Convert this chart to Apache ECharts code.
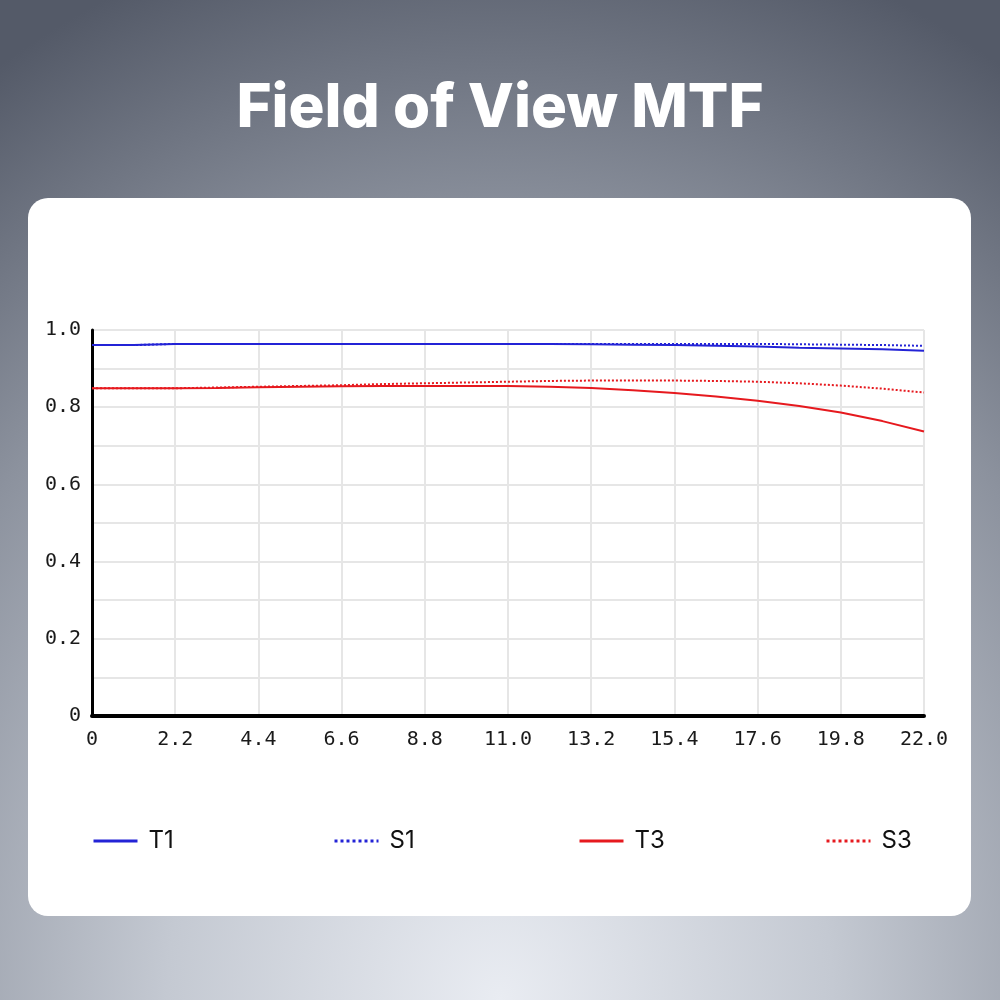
<!DOCTYPE html>
<html>
<head>
<meta charset="utf-8">
<script src="https://cdn.jsdelivr.net/npm/echarts@6/dist/echarts.min.js"></script>
<style>
html, body { margin: 0; padding: 0; }
body {
    width: 1000px; height: 1000px;
    background: radial-gradient(ellipse 95% 110% at 50% 100%, #e9ecf2 0%, #c4c9d2 35%, #8c929e 70%, #545a68 100%);
}
#main { width: 1000px; height: 1000px; }
</style>
</head>
<body>
<div id="main"></div>
<script>
// field positions (x axis)
var fields = [0, 1.1, 2.2, 3.3, 4.4, 5.5, 6.6, 7.7, 8.8, 9.9, 11.0, 12.1, 13.2, 14.3, 15.4, 16.5, 17.6, 18.7, 19.8, 20.9, 22.0];
var t1 = [0.961, 0.961, 0.964, 0.964, 0.964, 0.964, 0.964, 0.964, 0.964, 0.964, 0.964, 0.964, 0.963, 0.962, 0.961, 0.959, 0.957, 0.954, 0.952, 0.950, 0.946];
var s1 = [0.961, 0.961, 0.964, 0.964, 0.964, 0.964, 0.964, 0.964, 0.964, 0.964, 0.964, 0.964, 0.964, 0.964, 0.964, 0.964, 0.964, 0.963, 0.962, 0.961, 0.959];
var t3 = [0.849, 0.849, 0.849, 0.850, 0.852, 0.853, 0.854, 0.855, 0.855, 0.855, 0.855, 0.853, 0.850, 0.844, 0.837, 0.828, 0.817, 0.803, 0.786, 0.764, 0.737];
var s3 = [0.849, 0.849, 0.849, 0.851, 0.853, 0.855, 0.857, 0.860, 0.862, 0.864, 0.866, 0.868, 0.869, 0.869, 0.869, 0.868, 0.866, 0.862, 0.856, 0.848, 0.838];
var names = ['T1', 'S1', 'T3', 'S3'];
var legendLeft = [87, 328, 573, 820];

var blue = '#2323d6';
var red = '#e6191e';

function pairs(ys) {
    var out = [];
    for (var i = 0; i < fields.length; i++) out.push([fields[i], ys[i]]);
    return out;
}

function fmt(v) {
    return v === 0 ? '0' : v.toFixed(1);
}

var chart = echarts.init(document.getElementById('main'));

var legends = [];
for (var i = 0; i < names.length; i++) {
    legends.push({
        data: [names[i]],
        left: legendLeft[i],
        top: 824,
        itemWidth: 44,
        itemHeight: 4,
        itemGap: 10,
        itemStyle: { opacity: 0 },
        lineStyle: { width: 3 },
        textStyle: { fontSize: 24, color: '#111', fontFamily: 'Inter', padding: [0, 0, 0, 6] }
    });
}

var option = {
    animation: false,
    title: {
        text: 'Field of View MTF',
        left: 'center',
        top: 74,
        textStyle: { color: '#fff', fontSize: 60, fontWeight: 800, fontFamily: 'Inter' }
    },
    graphic: [{
        type: 'rect',
        shape: { x: 28, y: 198, width: 943, height: 718, r: 20 },
        style: { fill: '#fff' },
        z: -10
    }],
    legend: legends,
    grid: { left: 92, right: 76, top: 330, bottom: 284 },
    xAxis: {
        type: 'value',
        min: 0, max: 22, interval: 2.2,
        axisLine: { show: true, lineStyle: { color: '#000', width: 4 } },
        axisTick: { show: false },
        splitLine: { show: true, lineStyle: { color: '#e6e6e6', width: 2 } },
        axisLabel: {
            formatter: fmt, color: '#1a1a1a', fontSize: 20, margin: 14,
            fontFamily: 'DejaVu Sans Mono'
        }
    },
    yAxis: {
        type: 'value',
        min: 0, max: 1, interval: 0.2,
        axisLine: { show: true, lineStyle: { color: '#000', width: 3 } },
        axisTick: { show: false },
        splitLine: { show: true, lineStyle: { color: '#e6e6e6', width: 2 } },
        minorTick: { show: false, splitNumber: 2 },
        minorSplitLine: { show: true, lineStyle: { color: '#e6e6e6', width: 2 } },
        axisLabel: {
            formatter: fmt, color: '#1a1a1a', fontSize: 20, margin: 11,
            fontFamily: 'DejaVu Sans Mono'
        }
    },
    series: [
        { name: 'T1', type: 'line', data: pairs(t1), showSymbol: false, symbol: 'none',
          color: blue, lineStyle: { color: blue, width: 2 } },
        { name: 'S1', type: 'line', data: pairs(s1), showSymbol: false, symbol: 'none',
          color: blue, lineStyle: { color: blue, width: 2, type: 'dotted' } },
        { name: 'T3', type: 'line', data: pairs(t3), showSymbol: false, symbol: 'none',
          color: red, lineStyle: { color: red, width: 2 } },
        { name: 'S3', type: 'line', data: pairs(s3), showSymbol: false, symbol: 'none',
          color: red, lineStyle: { color: red, width: 2, type: 'dotted' } }
    ]
};

chart.setOption(option);
</script>
</body>
</html>
